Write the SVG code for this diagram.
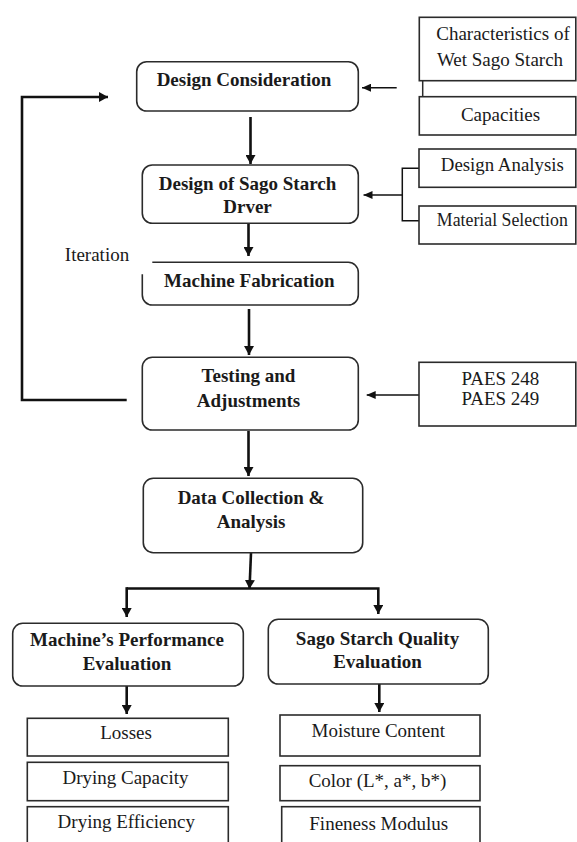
<svg xmlns="http://www.w3.org/2000/svg" width="577" height="842" viewBox="0 0 577 842">
<style>
.t{font-family:'Liberation Serif','Times New Roman',serif;font-size:19px;fill:#1a1a1a;text-anchor:middle}
.b{font-weight:bold}
.bx{fill:#fff;stroke:#2b2b2b;stroke-width:1.6}
.c{fill:none;stroke:#111;stroke-width:2.6}
.cs{fill:none;stroke:#111;stroke-width:1.5}
</style>
<defs>
<marker id="ah" markerUnits="userSpaceOnUse" markerWidth="9" markerHeight="10" refX="9" refY="5" orient="auto">
<path d="M0,0 L9,5 L0,10 z" fill="#111"/>
</marker>
<marker id="as" markerUnits="userSpaceOnUse" markerWidth="9" markerHeight="8" refX="9" refY="4" orient="auto">
<path d="M0,0 L9,4 L0,8 z" fill="#111"/>
</marker>
</defs>
<rect width="577" height="842" fill="#fff"/>
<g id="connectors">
<line class="c" x1="250.5" y1="117" x2="250.5" y2="164" marker-end="url(#ah)"/>
<line class="c" x1="248.5" y1="224" x2="248.5" y2="256" marker-end="url(#ah)"/>
<line class="c" x1="249" y1="309" x2="249" y2="355" marker-end="url(#ah)"/>
<line class="c" x1="248.5" y1="431" x2="248.5" y2="476" marker-end="url(#ah)"/>
<line class="c" x1="251" y1="553" x2="249.5" y2="589" marker-end="url(#ah)"/>
<polyline class="c" points="126.7,588.5 378.3,588.5 378.3,614" marker-end="url(#ah)"/>
<line class="c" x1="126.7" y1="587.2" x2="126.7" y2="617" marker-end="url(#ah)"/>
<line class="c" x1="126.7" y1="686" x2="126.7" y2="714" marker-end="url(#ah)"/>
<line class="c" x1="379.3" y1="684" x2="379.3" y2="712" marker-end="url(#ah)"/>
<polyline class="c" points="126.7,400 22,400 22,97 108,97" marker-end="url(#ah)"/>
<line class="cs" x1="396.7" y1="87.7" x2="362" y2="87.7" marker-end="url(#as)"/>
<polyline class="cs" points="419,168.3 402.3,168.3 402.3,220.7 419,220.7"/>
<line class="cs" x1="402.3" y1="195" x2="363.5" y2="195" marker-end="url(#as)"/>
<line class="cs" x1="419" y1="395" x2="366.7" y2="395" marker-end="url(#as)"/>
</g>
<g id="design-consideration">
<rect class="bx" x="136.7" y="61.7" width="221.6" height="49.3" rx="10"/>
<text class="t b" x="244" y="86">Design Consideration</text>
</g>
<g id="characteristics">
<rect class="bx" x="419.3" y="17.3" width="156.5" height="63.4"/>
<text class="t" x="503" y="40">Characteristics of</text>
<text class="t" x="500" y="66">Wet Sago Starch</text>
</g>
<g id="link-box">
<line x1="422.7" y1="80.7" x2="422.7" y2="96.7" stroke="#2b2b2b" stroke-width="1.5"/>
</g>
<g id="capacities">
<rect class="bx" x="419.3" y="96.7" width="156.5" height="38.3"/>
<text class="t" x="500.5" y="120.7">Capacities</text>
</g>
<g id="design-of-dryer">
<rect class="bx" x="142.3" y="165" width="216" height="58.3" rx="10"/>
<text class="t b" x="247.5" y="190">Design of Sago Starch</text>
<text class="t b" x="247.5" y="213.3">Drver</text>
</g>
<g id="design-analysis">
<rect class="bx" x="419" y="149" width="156.8" height="38.3"/>
<text class="t" x="502.3" y="170.7" textLength="123" lengthAdjust="spacingAndGlyphs">Design Analysis</text>
</g>
<g id="material-selection">
<rect class="bx" x="419" y="206" width="156.8" height="38"/>
<text class="t" x="502.3" y="226" textLength="131" lengthAdjust="spacingAndGlyphs">Material Selection</text>
</g>
<g id="iteration">
<text class="t" x="97" y="261">Iteration</text>
</g>
<g id="machine-fabrication">
<path class="bx" d="M142.3,274.3 V295 A10,10 0 0 0 152.3,305 H348.3 A10,10 0 0 0 358.3,295 V272.3 A10,10 0 0 0 348.3,262.3 H152.3"/>
<text class="t b" x="249.3" y="286.7">Machine Fabrication</text>
</g>
<g id="testing">
<rect class="bx" x="142.3" y="357.3" width="216" height="72.7" rx="10"/>
<text class="t b" x="248.5" y="381.7">Testing and</text>
<text class="t b" x="248.5" y="406.7">Adjustments</text>
</g>
<g id="paes">
<rect class="bx" x="419" y="362.3" width="156.8" height="63.7"/>
<text class="t" x="500.4" y="385">PAES 248</text>
<text class="t" x="500.4" y="405">PAES 249</text>
</g>
<g id="data-collection">
<rect class="bx" x="143.3" y="478.3" width="219.4" height="74.4" rx="10"/>
<text class="t b" x="251" y="504.3">Data Collection &amp;</text>
<text class="t b" x="251" y="528.3">Analysis</text>
</g>
<g id="performance-evaluation">
<rect class="bx" x="12.7" y="623.3" width="230.6" height="62.7" rx="10"/>
<text class="t b" x="127" y="646">Machine’s Performance</text>
<text class="t b" x="127" y="670">Evaluation</text>
</g>
<g id="quality-evaluation">
<rect class="bx" x="268.3" y="619.3" width="220" height="64.7" rx="10"/>
<text class="t b" x="377.5" y="645">Sago Starch Quality</text>
<text class="t b" x="377.5" y="668">Evaluation</text>
</g>
<g id="losses">
<rect class="bx" x="27.3" y="718.3" width="201" height="37.7"/>
<text class="t" x="126" y="739.3">Losses</text>
</g>
<g id="drying-capacity">
<rect class="bx" x="27.3" y="762.3" width="201" height="38.4"/>
<text class="t" x="125.5" y="784">Drying Capacity</text>
</g>
<g id="drying-efficiency">
<rect class="bx" x="27.3" y="806.7" width="201" height="40"/>
<text class="t" x="126.3" y="828.3">Drying Efficiency</text>
</g>
<g id="moisture-content">
<rect class="bx" x="280" y="715" width="200" height="41"/>
<text class="t" x="378.3" y="736.7">Moisture Content</text>
</g>
<g id="color">
<rect class="bx" x="280" y="765.7" width="200" height="35"/>
<text class="t" x="377.5" y="786.7">Color (L*, a*, b*)</text>
</g>
<g id="fineness-modulus">
<rect class="bx" x="281.7" y="806.7" width="198.3" height="40"/>
<text class="t" x="378.7" y="830">Fineness Modulus</text>
</g>
</svg>
